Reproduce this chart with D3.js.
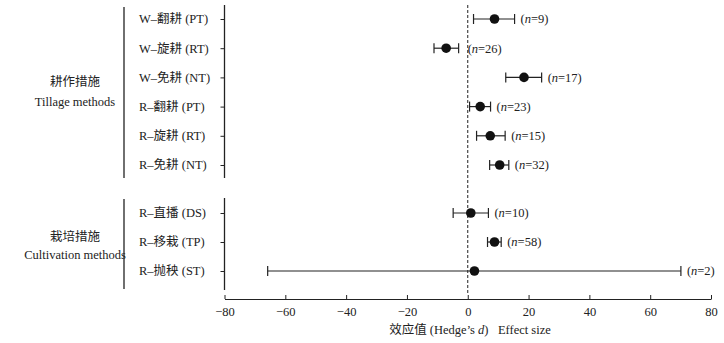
<!DOCTYPE html>
<html>
<head>
<meta charset="utf-8">
<script src="https://cdn.jsdelivr.net/npm/d3@7"></script>
<style>
  body { margin: 0; background: #fff; }
  text { font-family: "Liberation Serif", "Noto Sans CJK SC", serif; fill: #222; }
</style>
</head>
<body>
<div id="chart"></div>
<script>
// group 1 - tillage
const tillageLabels = ["W–翻耕 (PT)", "W–旋耕 (RT)", "W–免耕 (NT)", "R–翻耕 (PT)", "R–旋耕 (RT)", "R–免耕 (NT)"];
const tillageMean = [8.8, -7.1, 18.5, 4.1, 7.4, 10.5];
const tillageLow = [1.9, -11.1, 12.5, 0.6, 2.9, 7.2];
const tillageHigh = [15.4, -3.0, 24.3, 7.5, 12.3, 13.5];
const tillageN = [9, 26, 17, 23, 15, 32];

// group 2 - cultivation
const cultLabels = ["R–直播 (DS)", "R–移栽 (TP)", "R–抛秧 (ST)"];
const cultMean = [1.0, 8.8, 2.2];
const cultLow = [-4.8, 6.5, -65.8];
const cultHigh = [6.8, 11.0, 70.1];
const cultN = [10, 58, 2];

const xTicks = [-80, -60, -40, -20, 0, 20, 40, 60, 80];

const width = 724, height = 343;
const svg = d3.select("#chart").append("svg")
    .attr("width", width)
    .attr("height", height);

const x = d3.scaleLinear().domain([-80, 80]).range([224.5, 711]);
const y1 = d3.scalePoint().domain(tillageLabels).range([19, 165]);
const y2 = d3.scalePoint().domain(cultLabels).range([213, 271]);

// dashed zero line
svg.append("line")
    .attr("x1", x(0)).attr("x2", x(0))
    .attr("y1", 5).attr("y2", 293)
    .attr("stroke", "#222")
    .attr("stroke-dasharray", "3,2");

// bottom axis
const xAxis = svg.append("g")
    .attr("transform", "translate(0,299)")
    .call(d3.axisBottom(x).tickValues(xTicks).tickSizeInner(-4).tickSizeOuter(0).tickPadding(8)
        .tickFormat(d => d < 0 ? "−" + Math.abs(d) : d));
xAxis.select(".domain").attr("stroke", "#222");
xAxis.selectAll(".tick line").attr("stroke", "#222");
xAxis.selectAll("text").attr("font-size", 12.5).attr("fill", "#222")
    .style("font-family", "'Liberation Serif', serif");

const title = svg.append("text")
    .attr("x", 470).attr("y", 334)
    .attr("text-anchor", "middle")
    .attr("font-size", 12.5)
    .style("white-space", "pre");
title.append("tspan").text("效应值 (Hedge’s ");
title.append("tspan").attr("font-style", "italic").text("d");
title.append("tspan").text(")\u00a0\u00a0\u00a0Effect size");

function drawGroup(labels, mean, low, high, n, y, top, bottom, bracketTop, bracketBottom, names, nameY) {
    const rows = labels.map((l, i) => ({label: l, mean: mean[i], low: low[i], high: high[i], n: n[i]}));

    const yAxis = svg.append("g")
        .attr("transform", "translate(224.5,0)")
        .call(d3.axisLeft(y).tickSizeInner(4).tickSizeOuter(0).tickFormat(""));
    yAxis.select(".domain").attr("d", `M0,${top}V${bottom}`).attr("stroke", "#222").attr("stroke-width", 1.3);
    yAxis.selectAll(".tick line").attr("stroke", "#222");

    // bracket line on the left
    svg.append("line")
        .attr("x1", 124).attr("x2", 124)
        .attr("y1", bracketTop).attr("y2", bracketBottom)
        .attr("stroke", "#222").attr("stroke-width", 1.3);

    svg.append("g").selectAll("text")
        .data(rows).enter().append("text")
        .attr("x", 139)
        .attr("y", d => y(d.label))
        .attr("dy", "0.35em")
        .attr("font-size", 12.5)
        .text(d => d.label);

    names.forEach((t, i) => {
        svg.append("text")
            .attr("x", 75)
            .attr("y", nameY[i])
            .attr("text-anchor", "middle")
            .attr("font-size", 12.5)
            .text(t);
    });

    const g = svg.append("g").selectAll("g")
        .data(rows).enter().append("g");

    g.append("line")
        .attr("x1", d => x(d.low)).attr("x2", d => x(d.high))
        .attr("y1", d => y(d.label)).attr("y2", d => y(d.label))
        .attr("stroke", "#222").attr("stroke-width", 1.2);
    g.append("line")
        .attr("x1", d => x(d.low)).attr("x2", d => x(d.low))
        .attr("y1", d => y(d.label) - 5).attr("y2", d => y(d.label) + 5)
        .attr("stroke", "#222").attr("stroke-width", 1.2);
    g.append("line")
        .attr("x1", d => x(d.high)).attr("x2", d => x(d.high))
        .attr("y1", d => y(d.label) - 5).attr("y2", d => y(d.label) + 5)
        .attr("stroke", "#222").attr("stroke-width", 1.2);
    g.append("circle")
        .attr("cx", d => x(d.mean))
        .attr("cy", d => y(d.label))
        .attr("r", 4.8)
        .attr("fill", "#111");

    const nt = g.append("text")
        .attr("x", d => x(d.high) + (d.high < 0 ? 9 : 6))
        .attr("y", d => y(d.label))
        .attr("dy", "0.35em")
        .attr("font-size", 12.5);
    nt.append("tspan").text("(");
    nt.append("tspan").attr("font-style", "italic").text("n");
    nt.append("tspan").text(d => "=" + d.n + ")");
}

drawGroup(tillageLabels, tillageMean, tillageLow, tillageHigh, tillageN, y1,
    5, 178, 7, 178, ["耕作措施", "Tillage methods"], [86, 106]);
drawGroup(cultLabels, cultMean, cultLow, cultHigh, cultN, y2,
    198, 290, 199, 289, ["栽培措施", "Cultivation methods"], [241, 259]);
</script>
</body>
</html>
